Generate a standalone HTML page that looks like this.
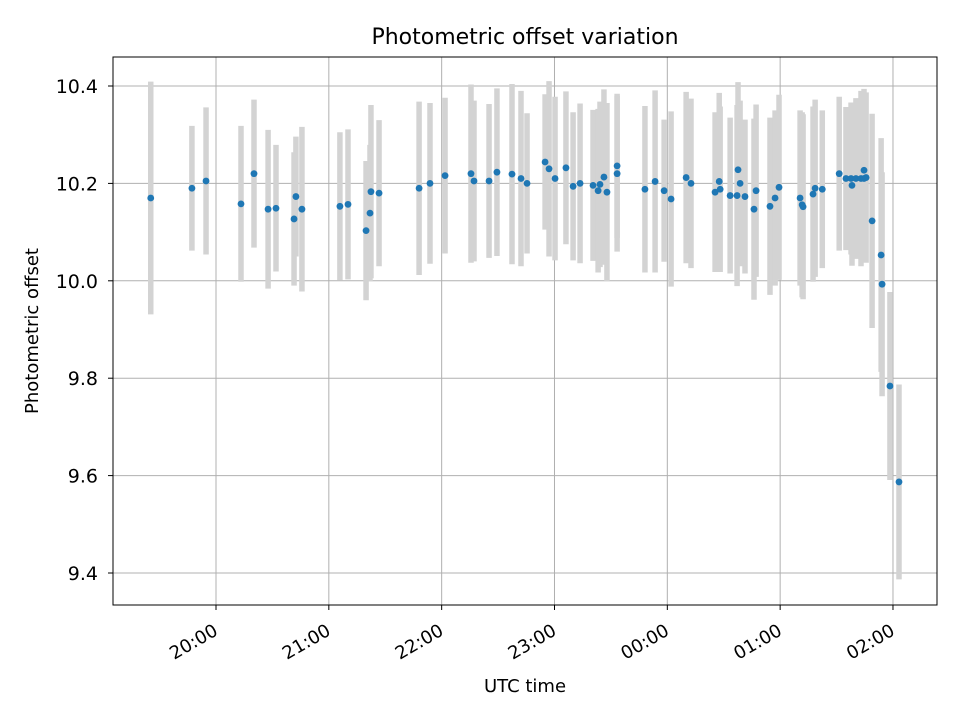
<!DOCTYPE html>
<html><head><meta charset="utf-8"><style>
body{margin:0;background:#fff}
svg{display:block;font-family:"DejaVu Sans","Liberation Sans",sans-serif}
</style></head><body>
<svg id="chart" width="960" height="720" viewBox="0 0 960 720">
<rect x="0" y="0" width="960" height="720" fill="#fff"/>
<text x="525" y="44" font-size="22" text-anchor="middle">Photometric offset variation</text>
<g id="grid"></g>
<g id="errs"></g>
<g id="pts"></g>
<rect x="113" y="57" width="824" height="548" fill="none" stroke="#000" stroke-width="1"/>
<g id="axes"></g>
<text x="525" y="692" font-size="18" text-anchor="middle">UTC time</text>
<text transform="translate(38,331) rotate(-90)" font-size="18" text-anchor="middle">Photometric offset</text>
</svg>
<script>
// minutes after 19:00 UTC
const times=[25.3,47.2,54.7,73.3,80.2,87.7,91.9,101.5,102.5,105.7,125.9,130.2,139.8,141.9,142.4,146.7,168,173.8,181.8,195.6,197.2,205.2,209.4,217.4,222.2,225.4,235,237.1,240.3,246.1,249.9,253.6,260.5,263.2,264.2,266.3,267.9,273.3,273.3,288.1,293.5,298.3,302,310,312.6,325.4,327.6,328.1,333.4,337.1,337.6,338.7,341.3,346.1,347.2,354.6,357.3,359.4,370.6,371.7,372.2,377.5,378.6,382.4,391.4,395,397.7,398.2,400.3,403,404.6,404.6,405.7,408.9,413.7,414.2,418.4,423.2];
const offsets=[10.17,10.19,10.205,10.158,10.22,10.147,10.149,10.127,10.173,10.147,10.153,10.157,10.103,10.139,10.183,10.18,10.19,10.2,10.216,10.22,10.205,10.205,10.223,10.219,10.21,10.2,10.244,10.23,10.21,10.232,10.194,10.2,10.196,10.185,10.198,10.213,10.182,10.236,10.22,10.188,10.204,10.185,10.168,10.212,10.2,10.182,10.204,10.188,10.175,10.175,10.228,10.2,10.173,10.147,10.185,10.153,10.17,10.192,10.17,10.156,10.152,10.178,10.19,10.188,10.22,10.21,10.21,10.196,10.21,10.21,10.21,10.227,10.212,10.123,10.053,9.993,9.784,9.587];
const errors=[0.239,0.128,0.151,0.16,0.152,0.163,0.13,0.137,0.123,0.169,0.152,0.154,0.143,0.14,0.178,0.15,0.178,0.165,0.16,0.183,0.165,0.158,0.172,0.185,0.18,0.144,0.139,0.18,0.168,0.157,0.152,0.164,0.155,0.168,0.17,0.18,0.183,0.148,0.16,0.171,0.187,0.146,0.18,0.176,0.174,0.164,0.182,0.17,0.16,0.186,0.18,0.17,0.158,0.186,0.177,0.182,0.18,0.19,0.18,0.19,0.19,0.18,0.182,0.162,0.158,0.147,0.156,0.165,0.165,0.18,0.17,0.167,0.175,0.22,0.24,0.23,0.193,0.2];
const xTickMinutes=[60,120,180,240,300,360,420];
const xTickLabels=["20:00","21:00","22:00","23:00","00:00","01:00","02:00"];
const yTicks=[9.4,9.6,9.8,10.0,10.2,10.4];
const yTickLabels=["9.4","9.6","9.8","10.0","10.2","10.4"];

const NS="http://www.w3.org/2000/svg";
const X0=113,X1=937,Y0=57,Y1=605;
function xs(m){return 216+(m-60)*112.83/60;}
function ys(v){return 573-(v-9.4)*487;}
function mk(tag,attrs,parent){const e=document.createElementNS(NS,tag);for(const k in attrs)e.setAttribute(k,attrs[k]);document.getElementById(parent).appendChild(e);return e;}

xTickMinutes.forEach((m,i)=>{
  const x=xs(m);
  const g=mk('line',{x1:x,x2:x,y1:Y0,y2:Y1,stroke:'#b0b0b0','stroke-width':1},'grid');
  
  
  const t=mk('line',{x1:x,x2:x,y1:Y1,y2:Y1+5,stroke:'#000','stroke-width':1},'axes');
  
  
  const l=mk('text',{transform:`translate(${x+3},${Y1+29}) rotate(-30)`,'font-size':18,'text-anchor':'end'},'axes');
  l.textContent=xTickLabels[i];
  
  
});
yTicks.forEach((v,i)=>{
  const y=ys(v);
  const g=mk('line',{x1:X0,x2:X1,y1:y,y2:y,stroke:'#b0b0b0','stroke-width':1},'grid');
  
  
  const t=mk('line',{x1:X0-5,x2:X0,y1:y,y2:y,stroke:'#000','stroke-width':1},'axes');
  
  
  const l=mk('text',{x:X0-15,y:y+7,'font-size':19,'text-anchor':'end'},'axes');
  l.textContent=yTickLabels[i];
  
  
});
times.forEach((m,i)=>{
  const x=xs(m);
  const e=mk('line',{x1:x,x2:x,y1:ys(offsets[i]+errors[i]),y2:ys(offsets[i]-errors[i]),stroke:'#d3d3d3','stroke-width':5.5},'errs');
  
  
});
times.forEach((m,i)=>{
  const c=mk('circle',{cx:xs(m),cy:ys(offsets[i]),r:3.4,fill:'#1f77b4'},'pts');
  
  
});
</script>
</body></html>
